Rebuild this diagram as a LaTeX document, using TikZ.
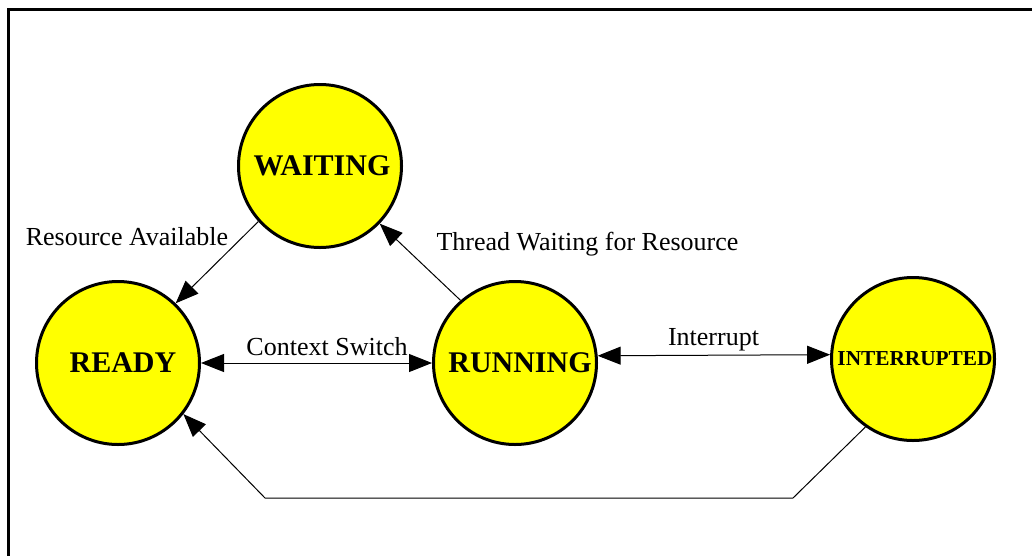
\documentclass[tikz,border=0pt]{standalone}
\usepackage{fontspec}
\setmainfont{Liberation Serif}
\usetikzlibrary{arrows.meta}
\definecolor{stateyellow}{RGB}{255,255,0}
\tikzset{
  state/.style={circle, draw=black, line width=3pt, fill=stateyellow, minimum size=163pt, inner sep=0pt, font=\fontsize{30}{32}\selectfont\bfseries},
  conn/.style={draw=black, line width=1pt},
  bigtip/.tip={Triangle[length=23pt,width=18pt]},
  tip/.style={-bigtip},
  both/.style={bigtip-bigtip},
  lbl/.style={font=\fontsize{26}{28}\selectfont, inner sep=0pt}
}
\begin{document}
\begin{tikzpicture}[x=1pt,y=-1pt]
\useasboundingbox (0,0) rectangle (1032,555);
\draw[line width=2.5pt] (8.5,560) -- (8.5,9.5) -- (1040,9.5);
\node[state] (waiting) at (320,166) {\hspace*{4pt}WAITING};
\node[state] (ready) at (118,363) {\hspace*{10pt}READY};
\node[state] (running) at (515,363) {\hspace*{10pt}RUNNING};
\node[state, font=\fontsize{21.3}{23}\selectfont\bfseries] (interrupted) at (913,359) {\hspace*{4pt}\raisebox{-2pt}{INTERRUPTED}};
\coordinate (c1) at (793,498);
\coordinate (c2) at (265,498);
\draw[conn, tip] (waiting.222) -- (ready.46);
\draw[conn, tip] (running.131) -- (waiting.316.5);
\draw[conn, both] (ready.east) -- (running.west);
\draw[conn, both] (running.5) -- (interrupted.177);
\draw[conn, tip] (interrupted.235) -- (c1) -- (c2) -- (ready.322);
\node[lbl] (l1) at (127,237) {Resource Available};
\node[lbl] (l2) at (587.5,244) {Thread Waiting for Resource};
\node[lbl] (l3) at (327,347) {Context Switch};
\node[lbl] (l4) at (713.5,340) {Interrupt};
\end{tikzpicture}
\end{document}
